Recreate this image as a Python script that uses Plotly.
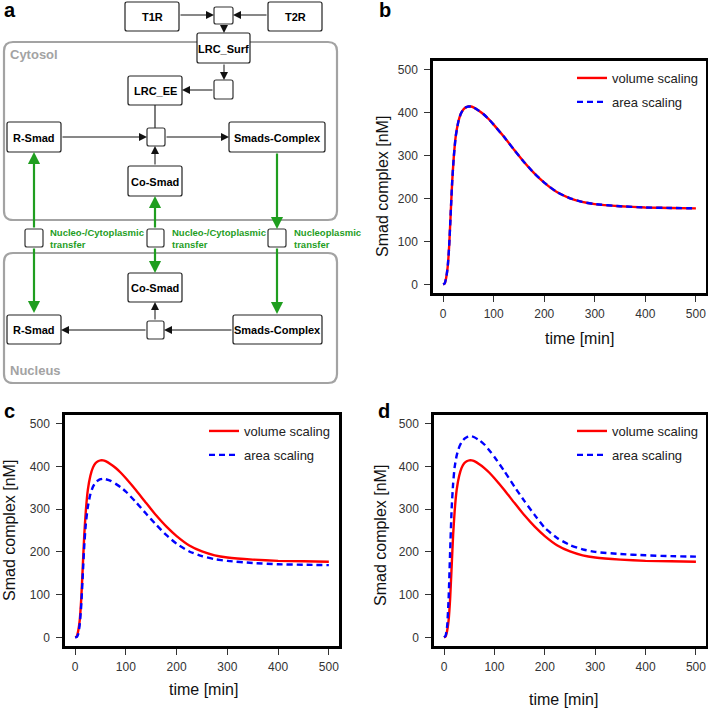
import plotly.graph_objects as go

# ---------------- data ----------------
time_min = [0, 3, 6, 9, 12, 15, 18, 21, 25, 30, 35, 40, 45, 50, 55, 60, 70, 80, 90, 100,
            120, 140, 160, 180, 200, 225, 250, 275, 300, 350, 400, 450, 500]

volume_scaling = [0, 2, 15, 40, 90, 165, 240, 295, 345, 378, 397, 407, 412, 414, 414, 412, 405, 396, 385, 372,
                  344, 314, 285, 259, 237, 215, 201, 192, 187, 182, 179, 178, 177]

area_scaling_b = [0, 2, 15, 40, 90, 165, 240, 295, 345, 378, 397, 407, 412, 414, 414, 412, 405, 396, 385, 372,
                  344, 314, 285, 259, 237, 215, 201, 192, 187, 182, 179, 178, 177]

area_scaling_c = [0, 1, 8, 30, 75, 145, 215, 265, 305, 335, 352, 362, 367, 370, 371, 370, 366, 359, 351, 341,
                  316, 289, 263, 239, 219, 201, 190, 183, 179, 174, 171, 170, 169]

area_scaling_d = [0, 4, 25, 90, 200, 300, 360, 398, 425, 445, 457, 464, 468, 470, 470, 468, 461, 451, 437, 422,
                  388, 352, 318, 286, 256, 232, 216, 206, 200, 195, 192, 190, 189]

tick_values = [0, 100, 200, 300, 400, 500]
series_names = ["volume scaling", "area scaling"]

# ---------------- layout helpers ----------------
W, H = 708, 710
FONT = "Arial, 'Liberation Sans', sans-serif"
GREEN = "#1f9e1f"
GRAY = "#a3a3a3"


def dom_x(a, b):
    return [a / W, b / W]


def dom_y(top, bottom):
    return [1 - bottom / H, 1 - top / H]


fig = go.Figure()

panels = [
    ("x", "y", volume_scaling, area_scaling_b, "legend"),
    ("x2", "y2", volume_scaling, area_scaling_c, "legend2"),
    ("x3", "y3", volume_scaling, area_scaling_d, "legend3"),
]
for xa, ya, vol, area, lg in panels:
    fig.add_trace(go.Scatter(x=time_min, y=vol, xaxis=xa, yaxis=ya, mode="lines",
                             name=series_names[0], legend=lg, legendgroup=lg + "v",
                             line=dict(color="#ff0000", width=2.4, shape="spline", smoothing=0.5)))
    fig.add_trace(go.Scatter(x=time_min, y=area, xaxis=xa, yaxis=ya, mode="lines",
                             name=series_names[1], legend=lg, legendgroup=lg + "a",
                             line=dict(color="#0000ff", width=2.4, dash="6px,4px",
                                       shape="spline", smoothing=0.5)))

# invisible pixel-coordinate overlay for the diagram
fig.add_trace(go.Scatter(x=[None], y=[None], xaxis="x4", yaxis="y4", showlegend=False,
                         hoverinfo="skip"))


def axis_style(domain, anchor, standoff):
    return dict(domain=domain, anchor=anchor, range=[-20, 520], tickvals=tick_values,
                ticks="outside", ticklen=6, tickwidth=1, tickcolor="#333",
                showline=True, linewidth=2.5, linecolor="black", mirror=True,
                showgrid=False, zeroline=False, fixedrange=True, ticklabelstandoff=standoff,
                tickfont=dict(family=FONT, size=12, color="#333"))


fig.update_layout(
    width=W, height=H, margin=dict(l=0, r=0, t=0, b=0),
    paper_bgcolor="white", plot_bgcolor="rgba(0,0,0,0)",
    xaxis=axis_style(dom_x(433, 706), "y", 2),
    yaxis=axis_style(dom_y(61, 293), "x", 4),
    xaxis2=axis_style(dom_x(65, 339), "y2", 2),
    yaxis2=axis_style(dom_y(415, 646), "x2", 4),
    xaxis3=axis_style(dom_x(434, 706), "y3", 2),
    yaxis3=axis_style(dom_y(415, 646), "x3", 4),
    xaxis4=dict(domain=[0, 1], anchor="y4", range=[0, W], visible=False, fixedrange=True),
    yaxis4=dict(domain=[0, 1], anchor="x4", range=[H, 0], visible=False, fixedrange=True),
    showlegend=True,
)

leg_common = dict(bgcolor="rgba(0,0,0,0)", borderwidth=0, xanchor="left", yanchor="top",
                  tracegroupgap=4, font=dict(family=FONT, size=13, color="#222"))
fig.update_layout(
    legend=dict(x=572 / W, y=1 - 63 / H, **leg_common),
    legend2=dict(x=204 / W, y=1 - 416 / H, **leg_common),
    legend3=dict(x=572 / W, y=1 - 416 / H, **leg_common),
)

shapes = []
annotations = []


def rrect_path(x0, y0, x1, y1, r):
    return (f"M{x0 + r},{y0} L{x1 - r},{y0} Q{x1},{y0} {x1},{y0 + r} "
            f"L{x1},{y1 - r} Q{x1},{y1} {x1 - r},{y1} L{x0 + r},{y1} "
            f"Q{x0},{y1} {x0},{y1 - r} L{x0},{y0 + r} Q{x0},{y0} {x0 + r},{y0} Z")


def text(x, y, s, size, color="black", bold=True, xanchor="center", yanchor="middle",
         angle=0, align="center"):
    annotations.append(dict(x=x, y=y, xref="x4", yref="y4", text=s, showarrow=False,
                            xanchor=xanchor, yanchor=yanchor, textangle=angle, align=align,
                            font=dict(family=FONT, size=size, color=color,
                                      weight="bold" if bold else "normal")))


def arrow(x0, y0, x1, y1, color="#111", width=1.0, size=1.6):
    annotations.append(dict(x=x1, y=y1, ax=x0, ay=y0, xref="x4", yref="y4",
                            axref="x4", ayref="y4", text="", showarrow=True,
                            arrowhead=2, arrowsize=size, arrowwidth=width,
                            arrowcolor=color, standoff=0, startstandoff=0))


# compartments
compartments = [("Cytosol", 4, 42, 337, 220, 54), ("Nucleus", 4, 253, 337, 383, 370)]
for name, x0, y0, x1, y1, ty in compartments:
    shapes.append(dict(type="path", path=rrect_path(x0, y0, x1, y1, 9), xref="x4", yref="y4",
                       line=dict(color=GRAY, width=2.2), fillcolor="rgba(0,0,0,0)", layer="below"))
    text(8, ty, name, 13, color=GRAY, xanchor="left")

# green transfer arrows (split around the transfer squares)
green_arrows = [(34, 229, 34, 152), (34, 247, 34, 313),
                (155, 229, 155, 196), (155, 247, 155, 273),
                (277, 152, 277, 229), (277, 247, 277, 314)]
for a in green_arrows:
    arrow(*a, color=GREEN, width=2.2, size=1.1)

# black reaction arrows
black_arrows = [(179, 15, 214, 15), (268, 15, 233, 15), (224, 24, 224, 33),
                (224, 63, 224, 80), (214, 90, 182, 90), (61, 137, 147, 137),
                (165, 137, 229, 137), (155, 166, 155, 146), (233, 330, 164, 330),
                (147, 330, 61, 330), (155, 321, 155, 302)]
for a in black_arrows:
    arrow(*a)
shapes.append(dict(type="line", x0=155, y0=105, x1=155, y1=128, xref="x4", yref="y4",
                   line=dict(color="#111", width=1.1)))

# species boxes
nodes = [("T1R", 125, 2, 179, 31), ("T2R", 268, 2, 322, 31),
         ("LRC_Surf", 197, 33, 250, 63), ("LRC_EE", 128, 76, 182, 105),
         ("R-Smad", 7, 122, 61, 152), ("Smads-Complex", 229, 122, 325, 152),
         ("Co-Smad", 128, 166, 182, 196), ("Co-Smad", 128, 273, 182, 302),
         ("R-Smad", 7, 315, 61, 344), ("Smads-Complex", 233, 315, 322, 344)]
for name, x0, y0, x1, y1 in nodes:
    shapes.append(dict(type="path", path=rrect_path(x0, y0, x1, y1, 2), xref="x4", yref="y4",
                       line=dict(color="#222", width=1.2), fillcolor="white"))
    text((x0 + x1) / 2, (y0 + y1) / 2 + 0.5, name, 11)

# reaction squares
squares = [(214, 7, 233, 24), (214, 80, 233, 99), (147, 128, 165, 146),
           (25, 229, 43, 247), (147, 229, 164, 247), (268, 229, 286, 247),
           (147, 321, 164, 339)]
for x0, y0, x1, y1 in squares:
    shapes.append(dict(type="path", path=rrect_path(x0, y0, x1, y1, 2), xref="x4", yref="y4",
                       line=dict(color="#333", width=1.2), fillcolor="white"))

# transfer labels
transfer_labels = [(48, "Nucleo-/Cytoplasmic<br>transfer"),
                   (170, "Nucleo-/Cytoplasmic<br>transfer"),
                   (292, "Nucleoplasmic<br>transfer")]
for x, s in transfer_labels:
    text(x, 238, s, 9.5, color=GREEN, xanchor="left", align="left")

# panel letters
for x, y, s in [(2, 9.5, "a"), (377, 9.5, "b"), (2, 411, "c"), (376, 411, "d")]:
    text(x, y, s, 20, xanchor="left")

# axis titles
axis_titles = [(382, 187, 579, 338), (9, 531, 203, 689), (380, 536, 563, 699)]
for yx, yy, xx, xy in axis_titles:
    text(yx, yy, "Smad complex [nM]", 16, color="#111", bold=False, angle=-90)
    text(xx, xy, "time [min]", 16, color="#111", bold=False)

fig.update_layout(shapes=shapes, annotations=annotations)
fig.write_html("out.html", config={"displayModeBar": False},
               post_script="document.body.style.margin='0px';")
